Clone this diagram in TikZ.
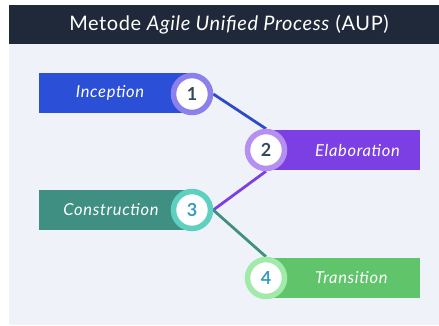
\documentclass[tikz,border=0pt]{standalone}
\usepackage{fontspec}
\setmainfont{Lato}
\pgfdeclarelayer{bg}
\pgfdeclarelayer{mid}
\pgfsetlayers{bg,mid,main}
\definecolor{titlebg}{HTML}{1F293A}
\definecolor{panelbg}{HTML}{EFF3F9}
\definecolor{blueA}{HTML}{2B4FD6}
\definecolor{blueRing}{HTML}{8C80EC}
\definecolor{blueLine}{HTML}{2D4BC8}
\definecolor{purpA}{HTML}{7B3FE4}
\definecolor{purpRing}{HTML}{B690F0}
\definecolor{tealA}{HTML}{3F8F82}
\definecolor{tealRing}{HTML}{5ED0C0}
\definecolor{greenA}{HTML}{5FC46A}
\definecolor{greenRing}{HTML}{A0EAAA}
\definecolor{numDark}{HTML}{34495E}
\definecolor{numBlue}{HTML}{3A9BC1}
\tikzset{
  barbox/.style={rectangle, minimum height=40pt, inner sep=0pt, draw=none, anchor=west},
  bartext/.style={text=white, font=\fontsize{16.5}{19}\selectfont\itshape\addfontfeatures{LetterSpace=4}, inner sep=0pt},
  numcirc/.style={circle, fill=white, line width=5.5pt, minimum size=37pt, inner sep=0pt, font=\fontsize{18}{20}\selectfont\bfseries},
  link/.style={line width=2.8pt}
}
\begin{document}
\begin{tikzpicture}[x=1pt,y=-1pt]
\useasboundingbox (0,0) rectangle (439,325);
\begin{pgfonlayer}{bg}
\fill[white] (0,0) rectangle (439,325);
\fill[panelbg] (9,44) rectangle (439,325);
\fill[titlebg] (9,5) rectangle (439,44);
\node[barbox, fill=blueA, minimum width=153pt] (b1) at (39,93) {};
\node[barbox, fill=purpA, minimum width=154pt] (b2) at (266,150) {};
\node[barbox, fill=tealA, minimum width=153pt] (b3) at (39,210) {};
\node[barbox, fill=greenA, minimum width=154pt] (b4) at (266,278) {};
\end{pgfonlayer}
\node[text=white, font=\fontsize{20}{23}\selectfont\addfontfeatures{LetterSpace=3}, inner sep=0pt] (title) at (229,25) {Metode \textit{Agile Unified Process} (AUP)};
\node[numcirc, draw=blueRing, text=numDark] (c1) at (192,94) {1};
\node[numcirc, draw=purpRing, text=numDark] (c2) at (266,150) {2};
\node[numcirc, draw=tealRing, text=numBlue] (c3) at (192,210) {3};
\node[numcirc, draw=greenRing, text=numBlue] (c4) at (266,278) {4};
\begin{pgfonlayer}{mid}
\draw[link, blueLine] (c1.east) -- (c2.north);
\draw[link, purpA] (c2.south) -- (c3.east);
\draw[link, tealA] (c3.east) -- (c4.north);
\end{pgfonlayer}
\node[bartext] (t1) at (110,93) {Inception};
\node[bartext, anchor=west] (t2) at (315,150) {Elaboration};
\node[bartext] (t3) at (111,210) {Construction};
\node[bartext, anchor=west] (t4) at (315,278) {Transition};
\end{tikzpicture}
\end{document}
